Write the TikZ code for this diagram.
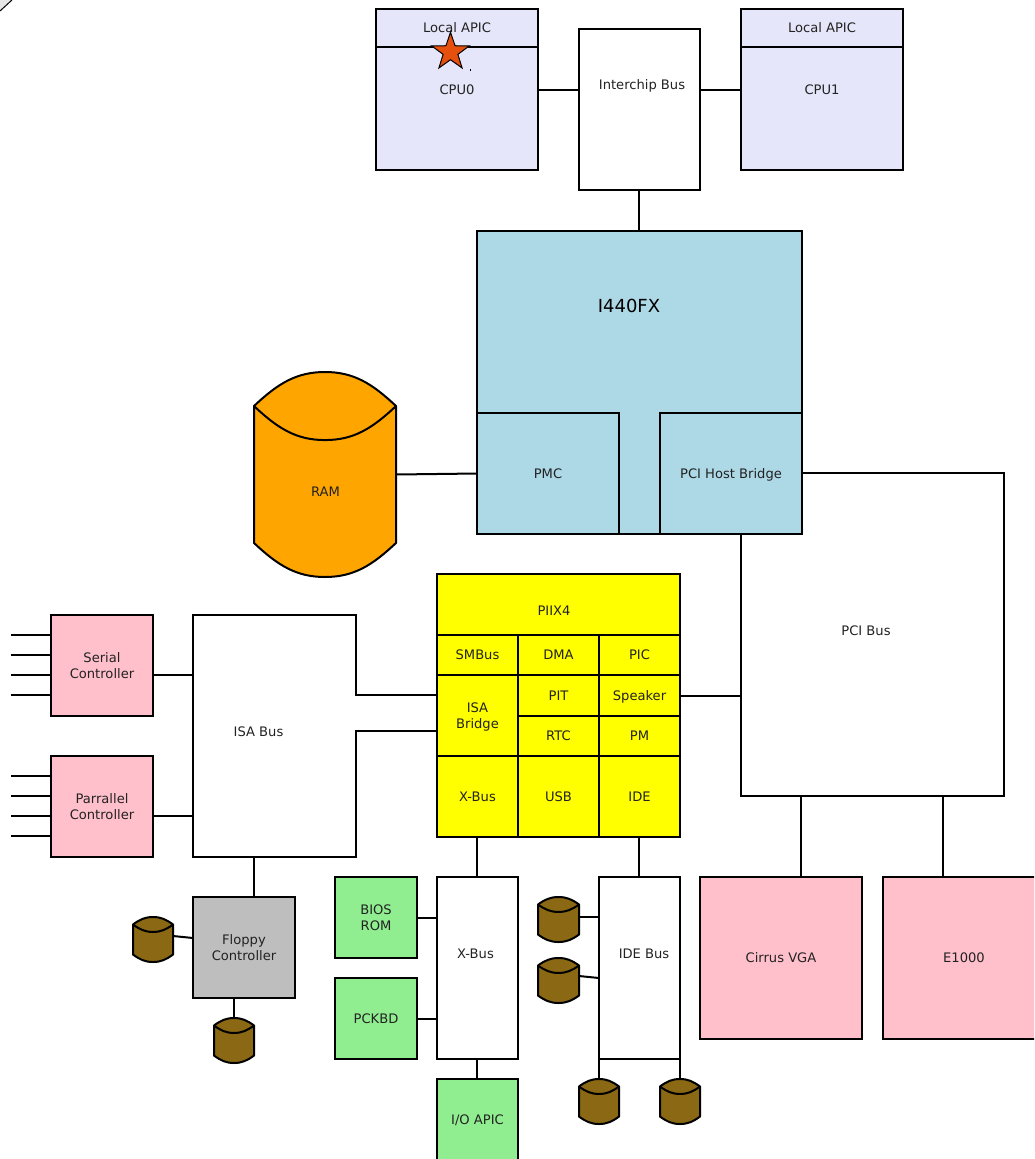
\documentclass[tikz,border=0pt]{standalone}
\usepackage{fontspec}
\setmainfont{DejaVu Sans}
\usetikzlibrary{shapes.geometric}
\definecolor{my_lavender}{HTML}{E5E6F9}
\definecolor{my_lightblue}{HTML}{ADD8E6}
\definecolor{my_orange}{HTML}{FFA500}
\definecolor{my_yellow}{HTML}{FFFF00}
\definecolor{my_pink}{HTML}{FFC0CB}
\definecolor{my_green}{HTML}{90EE90}
\definecolor{my_gray}{HTML}{BEBEBE}
\definecolor{my_brown}{HTML}{8B6914}
\definecolor{my_star}{HTML}{E5500F}
\definecolor{my_corner}{HTML}{E6E6E6}
\definecolor{my_text}{HTML}{222222}

%% Zylinder: \disk[farbe]{name}{links}{oben}{breite}{hoehe}
\newcommand{\disk}[6][my_brown]{
\begin{scope}[shift={(#3pt,-#4pt)}, x=#5pt, y=-#6pt]
    \draw[fill=#1, wire, line join=round]
        (0,.166) .. controls (.17,.055) and (.3,0) .. (.5,0)
        .. controls (.7,0) and (.83,.055) .. (1,.166) -- (1,.834)
        .. controls (.83,.945) and (.7,1) .. (.5,1)
        .. controls (.3,1) and (.17,.945) .. (0,.834) -- cycle;
    \draw[wire] (0,.166) .. controls (.17,.277) and (.3,.332) .. (.5,.332)
        .. controls (.7,.332) and (.83,.277) .. (1,.166);
    \node[minimum width=#5pt, minimum height=#6pt, inner sep=0pt, outer sep=0pt] (#2) at (.5,.5) {};
\end{scope}
}

\begin{document}
\begin{tikzpicture}[
    x=1pt, y=-1pt,
    wire/.style={draw=black, line width=2pt},
    block/.style 2 args={draw=black, line width=2pt, anchor=north west, inner sep=0pt, outer sep=0pt,
        minimum width=#1pt, minimum height=#2pt, align=center, text depth=0pt},
    block2/.style 2 args={block={#1}{#2}, text depth=},
    txt/.style={text depth=0pt}
]
\useasboundingbox (0,0) rectangle (1034,1159);
\clip (0,0) rectangle (1034,1159);

\tikzset{every node/.append style={font=\fontsize{13.1}{16}\selectfont, text=my_text}}

%% --- Ecke oben links ---
\fill[my_corner] (0,0) -- (12,0) -- (0,11) -- cycle;
\draw[draw=black, line width=1pt] (12,0) -- (0,11);

%% --- CPUs ---
\node[block={162}{161}, fill=my_lavender] (cpu0) at (376,9) {CPU0};
\node[block={162}{38}, fill=my_lavender] (apic0) at (376,9) {Local APIC};
\node[block={162}{161}, fill=my_lavender] (cpu1) at (741,9) {CPU1};
\node[block={162}{38}, fill=my_lavender] (apic1) at (741,9) {Local APIC};
\node[block={121}{161}] (interchip) at (579,29) {};
\node[txt] (interchiplabel) at (642,85) {Interchip Bus};
\draw[wire] (cpu0.east) -- (cpu0.east -| interchip.west);
\draw[wire] (cpu1.west) -- (cpu1.west -| interchip.east);

%% --- Stern ---
\node[star, star points=5, star point ratio=2.55, draw=black, line width=1pt, fill=my_star,
    minimum size=39.5pt, inner sep=0pt] (marker) at (450.5,52) {};
\node[fill=black, inner sep=0pt, minimum size=1.2pt] (markerdot) at (470.5,70) {};

%% --- PCI Bus liegt hinter dem I440FX ---
\node[block={263}{323}] (pcibus) at (741,473) {};
\node[txt] (pcibuslabel) at (866,630.5) {PCI Bus};

%% --- I440FX ---
\node[block={325}{303}, fill=my_lightblue] (i440fx) at (477,231) {};
\node[txt, font=\fontsize{18}{22}\selectfont, text=black] (i440fxlabel) at (629,305.5) {I440FX};
\node[block={142}{121}, fill=my_lightblue] (pmc) at (477,413) {PMC};
\node[block={142}{121}, fill=my_lightblue] (hostbridge) at (660,413) {PCI Host Bridge};
\draw[wire] ([xshift=-.5pt]interchip.south) -- ([xshift=-.5pt]interchip.south |- i440fx.north);

%% --- RAM ---
\disk[my_orange]{ram}{254}{372}{142}{205}
\node[txt] (ramlabel) at (325.5,491.5) {RAM};
\draw[wire] (ram.east) -- (pmc.west);

%% --- PIIX4 ---
\node[block={243}{61}, fill=my_yellow] (piix4) at (437,574) {};
\node[txt] (piix4label) at (554,610.5) {PIIX4};
\node[block={81}{40}, fill=my_yellow] (smbus) at (437,635) {SMBus};
\node[block={81}{40}, fill=my_yellow] (dma) at (518,635) {DMA};
\node[block={81}{40}, fill=my_yellow] (pic) at (599,635) {PIC};
\node[block={81}{81}, fill=my_yellow] (isabridge) at (437,675) {};
\node[align=center] (isabridgelabel) at (477.5,717) {ISA\\Bridge};
\node[block={81}{41}, fill=my_yellow] (pit) at (518,675) {PIT};
\node[block={81}{41}, fill=my_yellow] (speaker) at (599,675) {Speaker};
\node[block={81}{40}, fill=my_yellow] (rtc) at (518,716) {RTC};
\node[block={81}{40}, fill=my_yellow] (pm) at (599,716) {PM};
\node[block={81}{81}, fill=my_yellow] (xbuscell) at (437,756) {X-Bus};
\node[block={81}{81}, fill=my_yellow] (usb) at (518,756) {USB};
\node[block={81}{81}, fill=my_yellow] (ide) at (599,756) {IDE};
\draw[wire] (speaker.east) -- (speaker.east -| pcibus.west);

%% --- ISA Bus ---
\coordinate (isatop) at (isabridge.west |- 0,695);
\coordinate (isabottom) at (isabridge.west |- 0,731);
\draw[wire, line join=miter] (isatop) -- (356,695) -- (356,615) -- (193,615) -- (193,857)
    -- (356,857) -- (356,731) -- (isabottom);
\node[txt] (isabuslabel) at (258.5,731.5) {ISA Bus};
\coordinate (isaleft) at (193,736);

%% --- Controller links ---
\node[block2={102}{101}, fill=my_pink] (serial) at (51,615) {Serial\\Controller};
\node[block2={102}{101}, fill=my_pink] (parallel) at (51,756) {Parrallel\\Controller};
\foreach \y in {635,655,675,695} {
    \draw[wire] (serial.west |- 0,\y) -- ++(-40,0);
}
\foreach \y in {776,796,816,836} {
    \draw[wire] (parallel.west |- 0,\y) -- ++(-40,0);
}
\draw[wire] (serial.east |- 0,675) -- (isaleft |- 0,675);
\draw[wire] (parallel.east |- 0,816) -- (isaleft |- 0,816);

%% --- Floppy ---
\node[block2={102}{101}, fill=my_gray] (floppy) at (193,897) {Floppy\\Controller};
\draw[wire] (floppy.north -| 254,0) -- (254,857);
\disk{floppydiska}{133}{917}{40}{45}
\disk{floppydiskb}{214}{1018}{40}{45}
\draw[wire] ([yshift=3.5pt]floppydiska.east) -- ([yshift=9.5pt]floppy.west);
\draw[wire] (floppydiskb.north) -- (floppydiskb.north |- floppy.south);

%% --- X-Bus ---
\node[block={81}{182}] (xbus) at (437,877) {};
\node[txt] (xbuslabel) at (475.5,953.5) {X-Bus};
\node[block2={82}{81}, fill=my_green] (biosrom) at (335,877) {BIOS\\ROM};
\node[block={82}{81}, fill=my_green] (pckbd) at (335,978) {PCKBD};
\node[block={81}{81}, fill=my_green] (ioapic) at (437,1079) {I/O APIC};
\draw[wire] ([xshift=-.5pt]xbuscell.south) -- ([xshift=-.5pt]xbus.north);
\draw[wire] (biosrom.east) -- (biosrom.east -| xbus.west);
\draw[wire] (pckbd.east) -- (pckbd.east -| xbus.west);
\draw[wire] ([xshift=-.5pt]xbus.south) -- ([xshift=-.5pt]ioapic.north);

%% --- IDE Bus ---
\node[block={81}{182}] (idebus) at (599,877) {};
\node[txt] (idebuslabel) at (644,953.5) {IDE Bus};
\disk{idediska}{538}{897}{41}{45}
\disk{idediskb}{538}{958}{41}{45}
\disk{idediskc}{579}{1079}{40}{45}
\disk{idediskd}{660}{1079}{40}{45}
\draw[wire] ([xshift=-.5pt]ide.south) -- ([xshift=-.5pt]idebus.north);
\draw[wire] ([yshift=2.5pt]idediska.east) -- ([yshift=2.5pt]idediska.east -| idebus.west);
\draw[wire] ([yshift=4.5pt]idediskb.east) -- ([yshift=-10pt]idebus.west);
\draw[wire] (idediskc.north) -- (idediskc.north |- idebus.south);
\draw[wire] (idediskd.north) -- (idediskd.north |- idebus.south);

%% --- Grafik und Netzwerk ---
\node[block={162}{162}, fill=my_pink] (vga) at (700,877) {Cirrus VGA};
\node[block={162}{162}, fill=my_pink] (e1000) at (883,877) {E1000};
\draw[wire] (vga.north -| 801,0) -- (801,796);
\draw[wire] (e1000.north -| 943,0) -- (943,796);

\end{tikzpicture}
\end{document}
